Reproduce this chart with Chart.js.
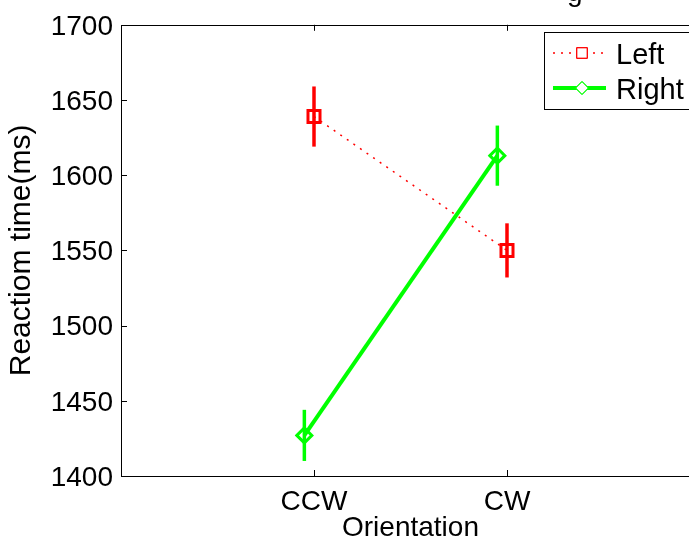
<!DOCTYPE html>
<html>
<head>
<meta charset="utf-8">
<script src="https://cdn.jsdelivr.net/npm/chart.js@4/dist/chart.umd.min.js"></script>
<style>
  html, body { margin: 0; padding: 0; background: #fff; overflow: hidden; }
  #wrap { width: 689px; height: 543px; overflow: hidden; position: relative; }
  canvas { display: block; }
</style>
</head>
<body>
<div id="wrap"><canvas id="c" width="712" height="543"></canvas></div>
<script>
// data
const categories = ['CCW', 'CW'];
const seriesNames = ['Left', 'Right'];
const leftMean = [1639, 1550];
const leftErr = [20, 18];
const rightMean = [1427, 1613];
const rightErr = [17, 20];
const yTicks = [1400, 1450, 1500, 1550, 1600, 1650, 1700];
const rightShift = -0.05; // the Right series is nudged left a little

const FONT = '"Liberation Sans", Arial, Helvetica, sans-serif';
const RED = '#ff0000';
const GREEN = '#00ff00';

const leftPts = categories.map((c, i) => ({ x: i + 1, y: leftMean[i], e: leftErr[i] }));
const rightPts = categories.map((c, i) => ({ x: i + 1 + rightShift, y: rightMean[i], e: rightErr[i] }));

// vertical error bars, no caps
const errorBars = {
  id: 'errorBars',
  beforeDatasetsDraw(chart) {
    const { ctx, scales: { x, y } } = chart;
    ctx.save();
    chart.data.datasets.forEach(ds => {
      ctx.strokeStyle = ds.borderColor;
      ctx.lineWidth = 3.5;
      ds.data.forEach(p => {
        const px = x.getPixelForValue(p.x);
        ctx.beginPath();
        ctx.moveTo(px, y.getPixelForValue(p.y - p.e));
        ctx.lineTo(px, y.getPixelForValue(p.y + p.e));
        ctx.stroke();
      });
    });
    ctx.restore();
  }
};

// matlab style box with inward ticks, legend and the clipped title
const frame = {
  id: 'frame',
  afterDraw(chart) {
    const { ctx, chartArea: a, scales: { x, y } } = chart;
    ctx.save();
    ctx.strokeStyle = '#000';
    ctx.lineWidth = 1;
    ctx.beginPath();
    ctx.rect(Math.round(a.left) + 0.5, Math.round(a.top) + 0.5,
             Math.round(a.right - a.left), Math.round(a.bottom - a.top));
    const tl = 6;
    yTicks.forEach(v => {
      const py = Math.round(y.getPixelForValue(v)) + 0.5;
      ctx.moveTo(a.left, py); ctx.lineTo(a.left + tl, py);
      ctx.moveTo(a.right, py); ctx.lineTo(a.right - tl, py);
    });
    categories.forEach((c, i) => {
      const px = Math.round(x.getPixelForValue(i + 1)) + 0.5;
      ctx.moveTo(px, a.bottom); ctx.lineTo(px, a.bottom - tl);
      ctx.moveTo(px, a.top); ctx.lineTo(px, a.top + tl);
    });
    ctx.stroke();

    // title, mostly above the page
    ctx.fillStyle = '#000';
    ctx.font = '28px ' + FONT;
    ctx.textAlign = 'left';
    ctx.textBaseline = 'alphabetic';
    ctx.fillText('g', 567, 1);

    // legend
    const lx = 544, ly = 32, lw = 170, lh = 77;
    ctx.fillStyle = '#fff';
    ctx.fillRect(lx, ly, lw, lh);
    ctx.strokeRect(lx + 0.5, ly + 0.5, lw, lh);
    const rows = [
      { name: seriesNames[0], color: RED, dash: [2, 6], width: 1.5, style: 'rect', y: 53 },
      { name: seriesNames[1], color: GREEN, dash: [], width: 4, style: 'rectRot', y: 88 }
    ];
    rows.forEach(r => {
      ctx.strokeStyle = r.color;
      ctx.lineWidth = r.width;
      ctx.setLineDash(r.dash);
      ctx.beginPath();
      ctx.moveTo(553, r.y); ctx.lineTo(606, r.y);
      ctx.stroke();
      ctx.setLineDash([]);
      ctx.lineWidth = 1;
      ctx.fillStyle = '#fff';
      Chart.helpers.drawPoint(ctx, { pointStyle: r.style, radius: r.style === 'rect' ? 7.5 : 6.5, borderWidth: 1, rotation: 0 }, 582, r.y);
      ctx.stroke();
      ctx.fillStyle = '#000';
      ctx.font = '29px ' + FONT;
      ctx.textBaseline = 'alphabetic';
      ctx.fillText(r.name, 616, r.y + 11);
    });
    ctx.restore();
  }
};

new Chart(document.getElementById('c'), {
  type: 'line',
  data: {
    datasets: [
      {
        label: seriesNames[0],
        data: leftPts,
        borderColor: RED,
        borderWidth: 1.5,
        borderDash: [2, 6],
        pointStyle: 'rect',
        pointRadius: 8.5,
        pointBorderWidth: 3,
        pointBorderColor: RED,
        pointBackgroundColor: 'rgba(0,0,0,0)',
        fill: false,
        tension: 0
      },
      {
        label: seriesNames[1],
        data: rightPts,
        borderColor: GREEN,
        borderWidth: 4,
        pointStyle: 'rectRot',
        pointRadius: 7.5,
        pointBorderWidth: 3,
        pointBorderColor: GREEN,
        pointBackgroundColor: 'rgba(0,0,0,0)',
        fill: false,
        tension: 0
      }
    ]
  },
  options: {
    responsive: false,
    animation: false,
    events: [],
    layout: { padding: { top: 23, right: 12, left: 0, bottom: 0 } },
    plugins: {
      legend: { display: false },
      tooltip: { enabled: false }
    },
    scales: {
      x: {
        type: 'linear',
        min: 0,
        max: 3,
        afterBuildTicks: s => { s.ticks = categories.map((c, i) => ({ value: i + 1 })); },
        afterFit: s => { s.height = 67; },
        grid: { display: false, drawTicks: false },
        border: { display: false },
        ticks: {
          color: '#000',
          font: { family: FONT, size: 28 },
          padding: 9,
          maxRotation: 0,
          autoSkip: false,
          callback: v => categories[v - 1]
        },
        title: {
          display: true,
          text: 'Orientation',
          color: '#000',
          font: { family: FONT, size: 28 },
          padding: { top: 0, bottom: -2 }
        }
      },
      y: {
        min: 1400,
        max: 1700,
        afterBuildTicks: s => { s.ticks = yTicks.map(v => ({ value: v })); },
        afterFit: s => { s.width = 121; },
        grid: { display: false, drawTicks: false },
        border: { display: false },
        ticks: {
          color: '#000',
          font: { family: FONT, size: 28 },
          padding: 8,
          labelOffset: 2,
          callback: v => String(v)
        },
        title: {
          display: true,
          text: 'Reactiom time(ms)',
          color: '#000',
          font: { family: FONT, size: 30 },
          padding: { top: 4, bottom: 0 }
        }
      }
    }
  },
  plugins: [errorBars, frame]
});
</script>
</body>
</html>
